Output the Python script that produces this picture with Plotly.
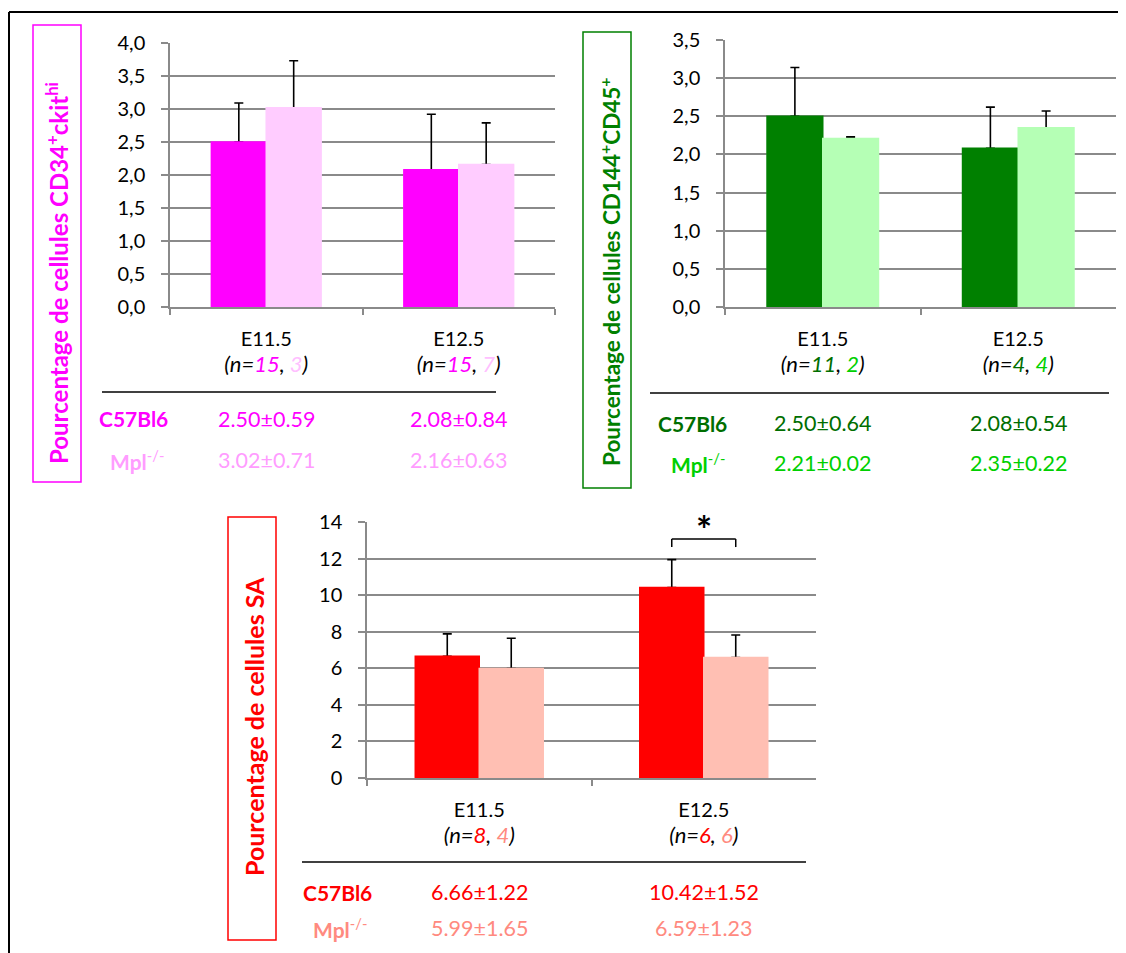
import plotly.graph_objects as go

W, H = 1126, 953
FONT = "Lato, Carlito, Calibri, sans-serif"

categories = ["E11.5", "E12.5"]

# CD34+ckit hi
cd34_wt = [2.50, 2.08]
cd34_wt_sd = [0.59, 0.84]
cd34_ko = [3.02, 2.16]
cd34_ko_sd = [0.71, 0.63]
cd34_n_wt = [15, 15]
cd34_n_ko = [3, 7]

# CD144+CD45+
cd144_wt = [2.50, 2.08]
cd144_wt_sd = [0.64, 0.54]
cd144_ko = [2.21, 2.35]
cd144_ko_sd = [0.02, 0.22]
cd144_n_wt = [11, 4]
cd144_n_ko = [2, 4]

# SA
sa_wt = [6.66, 10.42]
sa_wt_sd = [1.22, 1.52]
sa_ko = [5.99, 6.59]
sa_ko_sd = [1.65, 1.23]
sa_n_wt = [8, 6]
sa_n_ko = [4, 6]

BARGAP = 0.43
GRID = "#8a8a8a"
PAGE = 8  # default body margin of the html page


def px(x):
    return (x - PAGE) / W


def py(y):
    return 1 - (y - PAGE) / H


panels = [
    dict(ax="", wt=cd34_wt, wt_sd=cd34_wt_sd, ko=cd34_ko, ko_sd=cd34_ko_sd,
         n_wt=cd34_n_wt, n_ko=cd34_n_ko,
         c_wt="#FF00FF", c_ko="#FFCCFF", t_wt="#FF00FF", t_ko="#FF9CFF", n_ko_col="#FFC0FF", lab_wt="#FF00FF",
         xd=[170, 555], yd=[43, 307], ymax=4.0, dtick=0.5, fmt=".1f",
         title="Pourcentage de cellules CD34<sup>+</sup>ckit<sup>hi</sup>", tsize=24,
         box=[33, 25, 81, 482], tx=57, ty=273,
         sep=[102, 496, 392], row1=419, row2=460, labx=133, mplx=137),
    dict(ax="2", wt=cd144_wt, wt_sd=cd144_wt_sd, ko=cd144_ko, ko_sd=cd144_ko_sd,
         n_wt=cd144_n_wt, n_ko=cd144_n_ko,
         c_wt="#008000", c_ko="#B5FFB5", t_wt="#006E00", t_ko="#00D000", n_ko_col="#00D000", lab_wt="#006E00",
         xd=[725, 1116], yd=[40, 307], ymax=3.5, dtick=0.5, fmt=".1f",
         title="Pourcentage de cellules CD144<sup>+</sup>CD45<sup>+</sup>", tsize=22.5,
         box=[583, 32, 631, 488], tx=610, ty=272,
         sep=[650, 1109, 393], row1=423, row2=463, labx=692, mplx=698),
    dict(ax="3", wt=sa_wt, wt_sd=sa_wt_sd, ko=sa_ko, ko_sd=sa_ko_sd,
         n_wt=sa_n_wt, n_ko=sa_n_ko,
         c_wt="#FF0000", c_ko="#FFBFB3", t_wt="#FF0000", t_ko="#FF8A80", n_ko_col="#FF8A80", lab_wt="#FF0000",
         xd=[367, 816], yd=[522, 778], ymax=14, dtick=2, fmt="d",
         title="Pourcentage de cellules SA", tsize=25,
         box=[228, 517, 276, 940], tx=254, ty=727,
         sep=[302, 806, 862], row1=892, row2=928, labx=337, mplx=340),
]

fig = go.Figure()
shapes = []
annotations = []
layout_axes = {}

for p in panels:
    xa, ya = "x" + p["ax"], "y" + p["ax"]
    err = dict(type="data", symmetric=False, arrayminus=[0] * len(categories),
               color="black", thickness=1.6, width=4.5)
    # bars with upper error bars
    fig.add_trace(go.Bar(x=categories, y=p["wt"], marker_color=p["c_wt"], offsetgroup="wt",
                         error_y=dict(err, array=p["wt_sd"]), xaxis=xa, yaxis=ya))
    fig.add_trace(go.Bar(x=categories, y=p["ko"], marker_color=p["c_ko"], offsetgroup="ko",
                         error_y=dict(err, array=p["ko_sd"]), xaxis=xa, yaxis=ya))
    # same bars again on top, hiding the lower caps
    fig.add_trace(go.Bar(x=categories, y=p["wt"], offsetgroup="wt", xaxis=xa, yaxis=ya,
                         marker=dict(color=p["c_wt"], line=dict(color=p["c_wt"], width=1.5))))
    fig.add_trace(go.Bar(x=categories, y=p["ko"], offsetgroup="ko", xaxis=xa, yaxis=ya,
                         marker=dict(color=p["c_ko"], line=dict(color=p["c_ko"], width=1.5))))

    ticktext = [
        f"{c}<br><span style='font-size:22px'><i>(n=<span style='color:{p['t_wt']}'>{a}</span>, "
        f"<span style='color:{p['n_ko_col']}'>{b}</span>)</i></span>"
        for c, a, b in zip(categories, p["n_wt"], p["n_ko"])
    ]
    layout_axes["xaxis" + p["ax"]] = dict(
        domain=[px(p["xd"][0]), px(p["xd"][1])], anchor=ya, type="category", automargin=False,
        tickson="boundaries", ticks="outside", ticklen=6, tickcolor=GRID, tickwidth=1.5,
        showline=True, linecolor=GRID, linewidth=1.5, showgrid=False,
        tickvals=categories, ticktext=ticktext, ticklabelstandoff=13,
        tickfont=dict(family=FONT, size=20, color="black"),
    )
    layout_axes["yaxis" + p["ax"]] = dict(
        domain=[py(p["yd"][1]), py(p["yd"][0])], anchor=xa, automargin=False,
        range=[0, p["ymax"]], dtick=p["dtick"], tick0=0, tickformat=p["fmt"],
        showgrid=True, gridcolor=GRID, gridwidth=1.5, zeroline=False,
        ticks="outside", ticklen=7, tickcolor=GRID, tickwidth=1.5,
        showline=True, linecolor=GRID, linewidth=1.5, ticklabelstandoff=12,
        tickfont=dict(family=FONT, size=20, color="black"),
    )

    # boxed y title
    b = p["box"]
    shapes.append(dict(type="rect", xref="paper", yref="paper",
                       x0=px(b[0]), x1=px(b[2]), y0=py(b[3]), y1=py(b[1]),
                       line=dict(color=p["c_wt"], width=1.5), fillcolor="white", layer="below"))
    annotations.append(dict(xref="paper", yref="paper", x=px(p["tx"]), y=py(p["ty"]),
                            text=p["title"], textangle=-90, showarrow=False,
                            xanchor="center", yanchor="middle",
                            font=dict(family=FONT, size=p["tsize"], weight="bold", color=p["c_wt"])))

    # table under the chart
    s = p["sep"]
    shapes.append(dict(type="line", xref="paper", yref="paper",
                       x0=px(s[0]), x1=px(s[1]), y0=py(s[2]), y1=py(s[2]),
                       line=dict(color="black", width=1.5)))
    annotations.append(dict(xref="paper", yref="paper", x=px(p["labx"]), y=py(p["row1"]),
                            text="C57Bl6", showarrow=False, xanchor="center", yanchor="middle",
                            font=dict(family=FONT, size=21, weight="bold", color=p["lab_wt"])))
    annotations.append(dict(xref="paper", yref="paper", x=px(p["mplx"]), y=py(p["row2"]),
                            text="<b>Mpl</b><sup>-/-</sup>", showarrow=False, xanchor="center",
                            yanchor="middle", font=dict(family=FONT, size=21, color=p["t_ko"])))
    for c, m, sd, m2, sd2 in zip(categories, p["wt"], p["wt_sd"], p["ko"], p["ko_sd"]):
        annotations.append(dict(xref=xa, yref="paper", x=c, y=py(p["row1"]),
                                text=f"{m:.2f}±{sd:.2f}", showarrow=False, xanchor="center",
                                yanchor="middle", font=dict(family=FONT, size=21.5, color=p["t_wt"])))
        annotations.append(dict(xref=xa, yref="paper", x=c, y=py(p["row2"]),
                                text=f"{m2:.2f}±{sd2:.2f}", showarrow=False, xanchor="center",
                                yanchor="middle", font=dict(family=FONT, size=21.5, color=p["t_ko"])))

# significance bracket on E12.5 of the SA chart
off = (1 - BARGAP) / 4
bx0, bx1, btop, bfoot = 1 - off, 1 + off, 13.07, 12.63
for x0, y0, x1, y1 in [(bx0, btop, bx1, btop), (bx0, btop, bx0, bfoot), (bx1, btop, bx1, bfoot)]:
    shapes.append(dict(type="line", xref="x3", yref="y3", x0=x0, y0=y0, x1=x1, y1=y1,
                       line=dict(color="black", width=1.5)))
annotations.append(dict(xref="x3", yref="y3", x=1, y=13.6, text="*", showarrow=False,
                        xanchor="center", yanchor="middle",
                        font=dict(family=FONT, size=38, weight="bold", color="black")))

# outer frame (top and left edges)
shapes.append(dict(type="line", xref="paper", yref="paper", x0=px(9), x1=1.01, y0=py(12), y1=py(12),
                   line=dict(color="black", width=2)))
shapes.append(dict(type="line", xref="paper", yref="paper", x0=px(9), x1=px(9), y0=py(12), y1=-0.01,
                   line=dict(color="black", width=2)))

fig.update_layout(
    width=W, height=H, margin=dict(l=0, r=0, t=0, b=0),
    paper_bgcolor="white", plot_bgcolor="white",
    barmode="group", bargap=BARGAP, bargroupgap=0,
    separators=",.", showlegend=False,
    shapes=shapes, annotations=annotations,
    **layout_axes,
)

fig.write_html("out.html")
